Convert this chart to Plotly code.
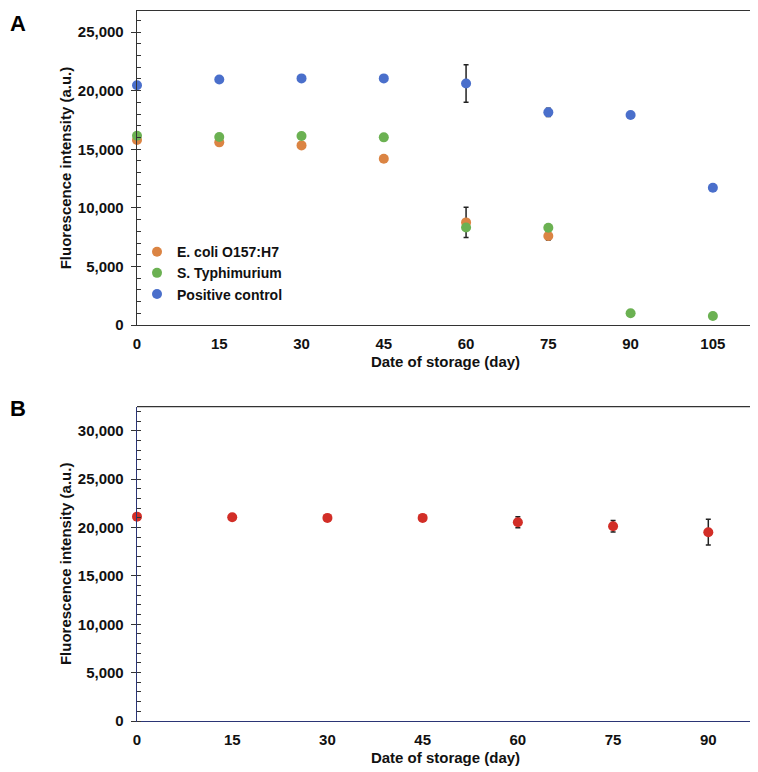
import plotly.graph_objects as go

# ---------------- data ----------------
days_a = [0, 15, 30, 45, 60, 75, 90, 105]
ecoli = [15790, 15590, 15330, 14190, 8760, 7600]
ecoli_days = [0, 15, 30, 45, 60, 75]
ecoli_err = [0, 0, 0, 0, 1300, 350]
styph = [16150, 16040, 16130, 16015, 8330, 8300, 1000, 770]
styph_err = [0, 0, 0, 0, 0, 0, 0, 0]
posctrl = [20460, 20960, 21050, 21050, 20620, 18150, 17920, 11715]
posctrl_err = [0, 0, 0, 0, 1600, 350, 0, 0]

days_b = [0, 15, 30, 45, 60, 75, 90]
panel_b = [21130, 21070, 21000, 21000, 20560, 20140, 19520]
panel_b_err = [0, 0, 0, 0, 570, 600, 1330]

x_ticks_a = [0, 15, 30, 45, 60, 75, 90, 105]
x_ticks_b = [0, 15, 30, 45, 60, 75, 90]

FONT = "Liberation Sans, Arial, sans-serif"
C_OR = "#DB8443"
C_GR = "#6BB152"
C_BL = "#4A6FCB"
C_RD = "#D22E27"

fig = go.Figure()

def err(arr):
    return dict(type="data", array=arr, visible=True, color="#222222",
                thickness=1.5, width=2.5)

fig.add_trace(go.Scatter(x=ecoli_days, y=ecoli, mode="markers", name="E. coli O157:H7",
                         marker=dict(color=C_OR, size=10), error_y=err(ecoli_err),
                         cliponaxis=False, xaxis="x", yaxis="y"))
fig.add_trace(go.Scatter(x=days_a, y=styph, mode="markers", name="S. Typhimurium",
                         marker=dict(color=C_GR, size=10), error_y=err(styph_err),
                         cliponaxis=False, xaxis="x", yaxis="y"))
fig.add_trace(go.Scatter(x=days_a, y=posctrl, mode="markers", name="Positive control",
                         marker=dict(color=C_BL, size=10), error_y=err(posctrl_err),
                         cliponaxis=False, xaxis="x", yaxis="y"))
fig.add_trace(go.Scatter(x=days_b, y=panel_b, mode="markers", name="B",
                         marker=dict(color=C_RD, size=10), error_y=err(panel_b_err),
                         cliponaxis=False, showlegend=False, xaxis="x2", yaxis="y2"))

tickfont = dict(family=FONT, size=15, color="#111111", weight="bold")
titlefont = dict(family=FONT, size=15, color="#111111", weight="bold")

common_y = dict(ticks="outside", ticklen=5, tickwidth=1.2, tickcolor="#333333",
                tickformat=",d", showgrid=False, zeroline=False, showline=True,
                tickfont=tickfont, ticksuffix=" ", automargin=False,
                minor=dict(ticks="inside", ticklen=4, dtick=1000, tickcolor="#333333", showgrid=False),
                title=dict(text="Fluorescence intensity (a.u.)", font=titlefont, standoff=2))
common_x = dict(ticks="outside", ticklen=5, tickcolor="rgba(0,0,0,0)", showgrid=False,
                zeroline=False, showline=True, tickfont=tickfont, automargin=False,
                title=dict(text="Date of storage (day)", font=titlefont, standoff=5))

# the page body adds an 8px offset, so the figure is 8px smaller and margins shifted
fig.update_layout(
    width=750, height=764,
    margin=dict(l=129, r=4, t=3, b=51),
    paper_bgcolor="white", plot_bgcolor="white",
    font=dict(family=FONT),
    xaxis=dict(common_x, domain=[0, 1], range=[0, 112.5], tickvals=x_ticks_a,
               anchor="y", linecolor="#333333", linewidth=1.3, mirror=True),
    yaxis=dict(common_y, domain=[0.5577, 1], range=[0, 26800], dtick=5000,
               anchor="x", linecolor="#333333", linewidth=1.3, mirror=True),
    xaxis2=dict(common_x, domain=[0, 1], range=[0, 97.2], tickvals=x_ticks_b,
                anchor="y2", linecolor="#2B3575", linewidth=1.3),
    yaxis2=dict(common_y, domain=[0, 0.4427], range=[0, 32500], dtick=5000,
                anchor="x2", linecolor="#2B3575", linewidth=1.3),
    legend=dict(x=0.0, y=0.683, xanchor="left", yanchor="top",
                bgcolor="rgba(0,0,0,0)", font=dict(family=FONT, size=14, color="#111111", weight="bold"),
                itemwidth=30, tracegroupgap=0),
    showlegend=True,
)

# top and right borders for panel B (grey, unlike the navy axes)
fig.add_shape(type="line", xref="x2 domain", yref="y2 domain", x0=0, x1=1, y0=1, y1=1,
              line=dict(color="#333333", width=1.3))
fig.add_shape(type="line", xref="x2 domain", yref="y2 domain", x0=1, x1=1, y0=0, y1=1,
              line=dict(color="#333333", width=1.3))

fig.add_annotation(text="<b>A</b>", xref="paper", yref="paper", x=-0.209, y=1.0028,
                   xanchor="left", yanchor="top", showarrow=False,
                   font=dict(family=FONT, size=22, color="#000000"))
fig.add_annotation(text="<b>B</b>", xref="paper", yref="paper", x=-0.209, y=0.440,
                   xanchor="left", yanchor="middle", showarrow=False,
                   font=dict(family=FONT, size=22, color="#000000"))

fig.write_html("out.html")
